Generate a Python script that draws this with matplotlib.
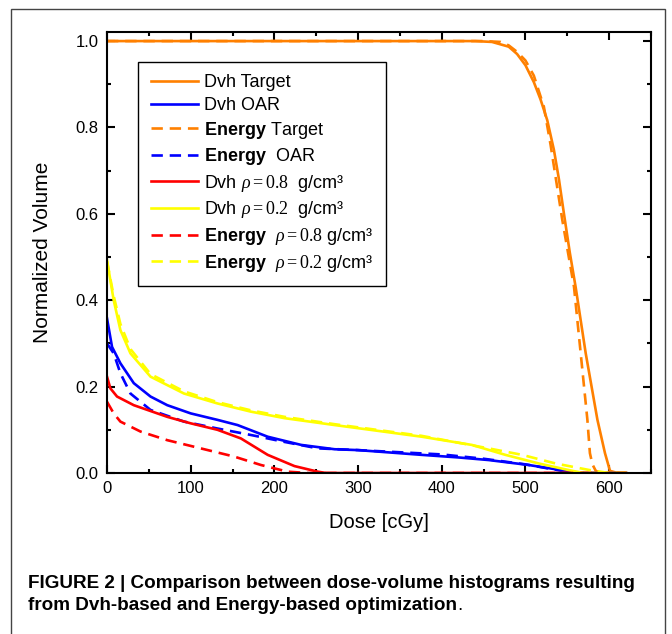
import matplotlib
matplotlib.use("Agg")
import matplotlib.pyplot as plt
from matplotlib.patches import Rectangle
from matplotlib.ticker import MultipleLocator, FormatStrFormatter

plt.rcParams['font.family'] = ['Liberation Sans', 'DejaVu Sans']
plt.rcParams['mathtext.fontset'] = 'custom'
plt.rcParams['mathtext.rm'] = 'Liberation Serif'
plt.rcParams['mathtext.it'] = 'Liberation Serif:italic'
plt.rcParams['mathtext.bf'] = 'Liberation Sans:bold'

# dose [cGy] / normalized volume
dvh_target_dose = [0, 100, 200, 300, 400, 440, 460, 480, 490, 500, 510, 518, 526, 534, 540, 546, 553, 560, 572, 586, 595, 601, 610, 620]
dvh_target_vol = [1.0, 1.0, 1.0, 1.0, 1.0, 1.0, 0.998, 0.987, 0.97, 0.944, 0.905, 0.865, 0.817, 0.748, 0.68, 0.60, 0.51, 0.43, 0.277, 0.123, 0.046, 0.005, 0, 0]

dvh_oar_dose = [0, 6, 16, 32, 52, 72, 100, 132, 156, 192, 232, 272, 300, 376, 420, 456, 504, 548, 560, 620]
dvh_oar_vol = [0.358, 0.292, 0.254, 0.208, 0.177, 0.157, 0.138, 0.123, 0.111, 0.084, 0.065, 0.055, 0.053, 0.042, 0.036, 0.030, 0.0185, 0.005, 0, 0]

en_target_dose = [0, 100, 200, 300, 400, 450, 470, 480, 490, 500, 510, 522, 530, 544, 558, 566, 574, 577, 580, 584, 590, 620]
en_target_vol = [1.0, 1.0, 1.0, 1.0, 1.0, 1.0, 0.998, 0.99, 0.975, 0.955, 0.92, 0.848, 0.76, 0.586, 0.431, 0.277, 0.123, 0.046, 0.02, 0.005, 0, 0]

en_oar_dose = [0, 8, 16, 28, 52, 92, 132, 172, 212, 252, 300, 400, 450, 500, 540, 560, 620]
en_oar_vol = [0.30, 0.277, 0.231, 0.184, 0.146, 0.119, 0.103, 0.088, 0.072, 0.057, 0.053, 0.043, 0.033, 0.02, 0.006, 0, 0]

dvh_08_dose = [0, 4, 12, 32, 72, 100, 132, 160, 192, 224, 252, 262, 620]
dvh_08_vol = [0.223, 0.196, 0.177, 0.157, 0.13, 0.115, 0.10, 0.08, 0.042, 0.016, 0.003, 0, 0]

dvh_02_dose = [0, 8, 16, 28, 52, 92, 132, 172, 212, 272, 376, 436, 476, 516, 556, 570, 620]
dvh_02_vol = [0.493, 0.40, 0.331, 0.277, 0.223, 0.184, 0.161, 0.142, 0.127, 0.111, 0.084, 0.065, 0.042, 0.022, 0.005, 0, 0]

en_08_dose = [0, 8, 16, 40, 72, 112, 152, 184, 216, 240, 620]
en_08_vol = [0.165, 0.138, 0.119, 0.096, 0.076, 0.057, 0.038, 0.0185, 0.003, 0, 0]

en_02_dose = [0, 8, 16, 28, 52, 92, 132, 172, 212, 272, 376, 456, 496, 536, 576, 600, 620]
en_02_vol = [0.49, 0.41, 0.345, 0.287, 0.229, 0.189, 0.164, 0.145, 0.13, 0.113, 0.086, 0.057, 0.042, 0.022, 0.007, 0, 0]

orange = '#FF8000'
blue = '#0000FF'
red = '#FF0000'
yellow = '#FFFF00'
lw = 1.9
dash = (0, (4.3, 2.6))

fig = plt.figure(figsize=(6.72, 6.34), dpi=100)
ax = fig.add_axes([107/672, 1-473/634, (651-107)/672, (473-32)/634])

ax.plot(dvh_target_dose, dvh_target_vol, color=orange, lw=lw, label='Dvh Target')
ax.plot(dvh_oar_dose, dvh_oar_vol, color=blue, lw=lw, label='Dvh OAR')
ax.plot(en_target_dose, en_target_vol, color=orange, lw=lw, ls=dash, label=r'$\mathbf{Energy}$ Target')
ax.plot(en_oar_dose, en_oar_vol, color=blue, lw=lw, ls=dash, label=r'$\mathbf{Energy}$  OAR')
ax.plot(dvh_08_dose, dvh_08_vol, color=red, lw=lw, label=r'Dvh $\rho=0.8$  g/cm³')
ax.plot(dvh_02_dose, dvh_02_vol, color=yellow, lw=lw, label=r'Dvh $\rho=0.2$  g/cm³')
ax.plot(en_08_dose, en_08_vol, color=red, lw=lw, ls=dash, label=r'$\mathbf{Energy}$  $\rho=0.8$ g/cm³')
ax.plot(en_02_dose, en_02_vol, color=yellow, lw=lw, ls=dash, label=r'$\mathbf{Energy}$  $\rho=0.2$ g/cm³')

ax.set_xlim(0, 650)
ax.set_ylim(0, 1.021)
ax.xaxis.set_major_locator(MultipleLocator(100))
ax.xaxis.set_minor_locator(MultipleLocator(50))
ax.yaxis.set_major_locator(MultipleLocator(0.2))
ax.yaxis.set_minor_locator(MultipleLocator(0.1))
ax.yaxis.set_major_formatter(FormatStrFormatter('%.1f'))
ax.tick_params(which='both', direction='in', top=True, right=True, width=1.5, labelsize=12, pad=6)
ax.tick_params(which='major', length=6)
ax.tick_params(which='minor', length=3)
for s in ax.spines.values():
    s.set_linewidth(1.5)

ax.set_xlabel('Dose [cGy]', fontsize=14.5, labelpad=12)
ax.set_ylabel('Normalized Volume', fontsize=15, labelpad=17)

leg = ax.legend(loc='upper left', bbox_to_anchor=(138/672, 1-61.7/634), bbox_transform=fig.transFigure,
                fontsize=13, frameon=True, fancybox=False, edgecolor='black', framealpha=1,
                handlelength=2.6, handletextpad=0.35, labelspacing=0.31, borderpad=0.7, borderaxespad=0)
leg.get_frame().set_linewidth(1.0)

# outer frame of the figure panel
fig.patches.append(Rectangle((11/672, -0.02), (665-11)/672, 1-9/634+0.02, transform=fig.transFigure,
                             fill=False, edgecolor='#444444', lw=1.0))

fig.text(28/672, 1-583/634, 'FIGURE 2 | Comparison between dose-volume histograms resulting',
         fontsize=13.6, fontweight='bold', va='center', ha='left')
cap2 = fig.text(28/672, 1-606/634, 'from Dvh-based and Energy-based optimization',
                fontsize=13.6, fontweight='bold', va='center', ha='left')
ax.annotate('.', xy=(1, 0), xycoords=cap2, va='bottom', ha='left', fontsize=13.6)

fig.savefig('out.png', dpi=100)
